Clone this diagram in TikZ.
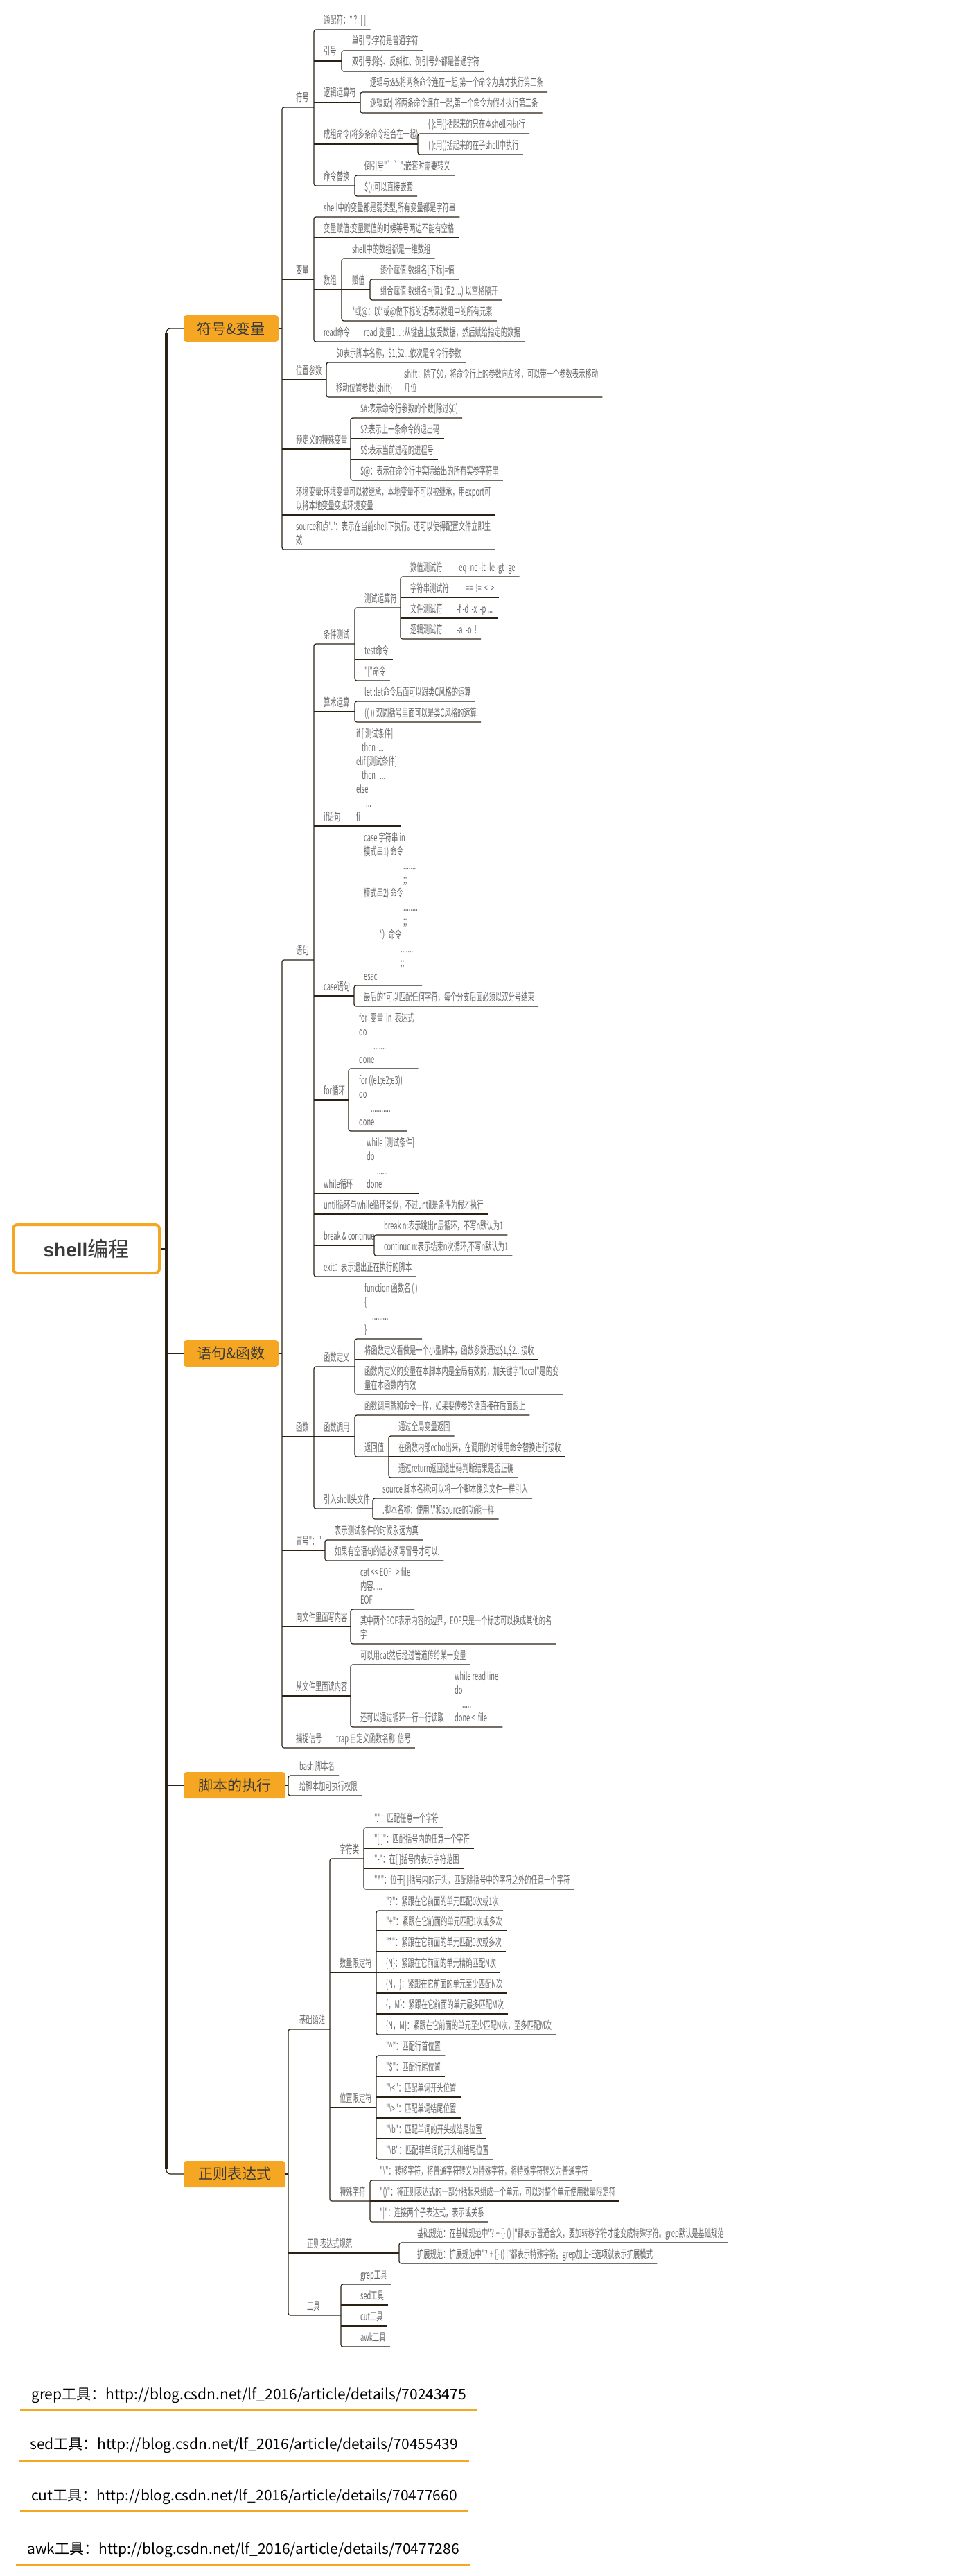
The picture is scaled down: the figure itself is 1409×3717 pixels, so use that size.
\documentclass[tikz,border=0pt]{standalone}
\usepackage{fontspec}
\setmainfont{Noto Sans CJK SC}
\newfontfamily\tfont{Noto Sans CJK SC}[FakeStretch=0.58]
\newfontfamily\rootlat{Liberation Sans}
\usetikzlibrary{positioning, calc}
\definecolor{lncol}{HTML}{2A2014}
\definecolor{txcol}{HTML}{666666}
\definecolor{orng}{HTML}{F5A623}
\definecolor{hubtx}{HTML}{3A3A3A}

\begin{document}
\begin{tikzpicture}[x=1pt, y=-1pt,
  ln/.style={draw=lncol, line width=1.2pt},
  bk/.style={ln, rounded corners=3pt},
  tx/.style={anchor=base west, inner xsep=6pt, inner ysep=0pt, align=left, text=txcol,
    font={\tfont\fontsize{16pt}{20pt}\selectfont}},
  hub/.style={fill=orng, rounded corners=4pt, minimum width=137pt, minimum height=38pt,
    inner sep=0pt, text=hubtx, font={\fontsize{21pt}{24pt}\selectfont}},
  lk/.style={anchor=base west, inner xsep=16pt, inner ysep=0pt, text=black,
    font={\fontsize{21pt}{24pt}\selectfont}},
  ol/.style={draw=orng, line width=3pt}]
\useasboundingbox (0,0) rectangle (1409,3717);

% root and trunk
\node[draw=orng, line width=4pt, fill=white, rounded corners=6pt, minimum width=211pt,
  minimum height=70pt, font={\fontsize{30pt}{34pt}\selectfont}, text=hubtx] (rt) at (124.5,1802)
  {{\rootlat\bfseries\fontsize{28pt}{30pt}\selectfont shell}编程};
\node[hub] (fhbl) at (333.5,474) {符号\&变量};
\node[hub] (yjhs) at (333.5,1953) {语句\&函数};
\node[hub, minimum width=147pt] (jbzx) at (338.5,2576) {脚本的执行};
\node[hub, minimum width=147pt] (zzbd) at (338.5,3137) {正则表达式};
\draw[ln, rounded corners=6pt] (fhbl.west) -- (240,474) -- (240,3137) -- (zzbd.west);
\draw[draw=lncol, line width=4pt] (240,481) -- (240,3130);
\draw[ln] (rt.east) -- (240,1802);
\draw[ln] (240,1953) -- (yjhs.west);
\draw[ln] (240,2576) -- (jbzx.west);

% ---------- 符号&变量
\draw[ln] (fhbl.east) -- (407,474);
\node[tx] (fh) at (421,147) {符号};
\node[tx] (tpf) at (461,35) {通配符：* ？[ ]};
\node[tx] (yh) at (461,80) {引号};
\node[tx] (dyh) at (502,65) {单引号:字符是普通字符};
\node[tx] (syh) at (502,95) {双引号:除\$、反斜杠、倒引号外都是普通字符};
\node[tx] (ljys) at (461,140) {逻辑运算符};
\node[tx] (ljy) at (528,125) {逻辑与:\&\&将两条命令连在一起,第一个命令为真才执行第二条};
\node[tx] (ljh) at (528,155) {逻辑或:||将两条命令连在一起,第一个命令为假才执行第二条};
\node[tx] (zzml) at (461,200) {成组命令(将多条命令组合在一起)};
\node[tx] (dkh) at (612,185) {\{ \}:用\{\}括起来的只在本shell内执行};
\node[tx] (xkh) at (612,215) {( ):用()括起来的在子shell中执行};
\node[tx] (mlth) at (461,260) {命令替换};
\node[tx] (dyhao) at (520,245) {倒引号"\textasciigrave\kern0pt\textasciigrave":嵌套时需要转义};
\node[tx] (ddk) at (520,275) {\$():可以直接嵌套};
\draw[bk] (tpf.east |- 0,43) -- (453,43) -- (453,268) -- (512,268);
\draw[ln] (453,88) -- (493,88);
\draw[bk] (dyh.east |- 0,73) -- (493,73) -- (493,103) -- (syh.east |- 0,103);
\draw[ln] (453,148) -- (520,148);
\draw[bk] (ljy.east |- 0,133) -- (520,133) -- (520,163) -- (ljh.east |- 0,163);
\draw[ln] (453,208) -- (603,208);
\draw[bk] (dkh.east |- 0,193) -- (603,193) -- (603,223) -- (xkh.east |- 0,223);
\draw[bk] (dyhao.east |- 0,253) -- (512,253) -- (512,283) -- (ddk.east |- 0,283);

\node[tx] (bl) at (421,395) {变量};
\node[tx] (rlx) at (461,305) {shell中的变量都是弱类型,所有变量都是字符串};
\node[tx] (blfz) at (461,335) {变量赋值:变量赋值的时候等号两边不能有空格};
\node[tx] (sz) at (461,410) {数组};
\node[tx] (wsz) at (502,365) {shell中的数组都是一维数组};
\node[tx] (fz) at (502,410) {赋值};
\node[tx] (zg) at (543,395) {逐个赋值:数组名[下标]=值};
\node[tx] (zh) at (543,425) {组合赋值:数组名=(值1 值2 ...) 以空格隔开};
\node[tx] (sy) at (502,455) {*或@：以*或@做下标的话表示数组中的所有元素};
\node[tx] (rd) at (461,485) {read命令};
\node[tx] (rdx) at (519,485) {read 变量1... :从键盘上接受数据，然后赋给指定的数据};
\draw[ln] (407,403) -- (453,403);
\draw[bk] (rlx.east |- 0,313) -- (453,313) -- (453,493) -- (rdx.east |- 0,493);
\draw[ln] (453,343) -- (blfz.east |- 0,343);
\draw[ln] (453,418) -- (534,418);
\draw[bk] (wsz.east |- 0,373) -- (493,373) -- (493,463) -- (sy.east |- 0,463);
\draw[bk] (zg.east |- 0,403) -- (534,403) -- (534,433) -- (zh.east |- 0,433);

\node[tx] (wzcs) at (421,540) {位置参数};
\node[tx] (cs0) at (479,515) {\$0表示脚本名称，\$1,\$2...依次是命令行参数};
\node[tx] (ydcs) at (479,565) {移动位置参数(shift)};
\node[tx] (shf) at (577,565) {shift：除了\$0，将命令行上的参数向左移，可以带一个参数表示移动\\几位};
\draw[ln] (407,548) -- (471,548);
\draw[bk] (cs0.east |- 0,523) -- (471,523) -- (471,573) -- (shf.east |- 0,573);

\node[tx] (tsbl) at (421,640) {预定义的特殊变量};
\node[tx] (sj) at (514,595) {\$\#:表示命令行参数的个数(除过\$0)};
\node[tx] (sw) at (514,625) {\$?:表示上一条命令的退出码};
\node[tx] (sd) at (514,655) {\$\$:表示当前进程的进程号};
\node[tx] (sa) at (514,685) {\$@：表示在命令行中实际给出的所有实参字符串};
\draw[ln] (407,648) -- (506,648);
\draw[bk] (sj.east |- 0,603) -- (506,603) -- (506,693) -- (sa.east |- 0,693);
\draw[ln] (506,633) -- (sw.east |- 0,633);
\draw[ln] (506,663) -- (sd.east |- 0,663);

\node[tx] (hjbl) at (421,735) {环境变量:环境变量可以被继承，本地变量不可以被继承，用export可\\以将本地变量变成环境变量};
\node[tx] (src) at (421,785) {source和点"."：表示在当前shell下执行。还可以使得配置文件立即生\\效};
\draw[ln] (407,743) -- (hjbl.east |- 0,743);
\draw[bk] (453,155) -- (407,155) -- (407,793) -- (src.east |- 0,793);

% ---------- 语句&函数
\draw[ln] (yjhs.east) -- (407,1953);
\node[tx] (yj) at (421,1377) {语句};

\node[tx] (tjcs) at (461,921) {条件测试};
\node[tx] (csys) at (520,869) {测试运算符};
\node[tx] (szcs) at (586,824) {数值测试符};
\node[tx] (szop) at (653,824) {-eq -ne -lt -le -gt -ge};
\node[tx] (zfcs) at (586,854) {字符串测试符};
\node[tx] (zfop) at (666,854) {==\ \ !=\ \ <\ \ >};
\node[tx] (wjcs) at (586,884) {文件测试符};
\node[tx] (wjop) at (653,884) {-f -d\ \ -x\ \ -p ...};
\node[tx] (ljcs) at (586,914) {逻辑测试符};
\node[tx] (ljop) at (653,914) {-a\ \ -o\ \ !};
\node[tx] (test) at (520,944) {test命令};
\node[tx] (zkh) at (520,974) {"["命令};
\draw[bk] (578,877) -- (512,877) -- (512,982) -- (zkh.east |- 0,982);
\draw[bk] (szop.east |- 0,832) -- (578,832) -- (578,922) -- (ljop.east |- 0,922);
\draw[ln] (578,862) -- (zfop.east |- 0,862);
\draw[ln] (578,892) -- (wjop.east |- 0,892);
\draw[ln] (512,952) -- (test.east |- 0,952);

\node[tx] (ssys) at (461,1019) {算术运算};
\node[tx] (let) at (520,1004) {let :let命令后面可以跟类C风格的运算};
\node[tx] (syk) at (520,1034) {(( )) 双圆括号里面可以是类C风格的运算};
\draw[ln] (453,1027) -- (512,1027);
\draw[bk] (let.east |- 0,1012) -- (512,1012) -- (512,1042) -- (syk.east |- 0,1042);

\node[tx] (ifyj) at (461,1184) {if语句};
\node[tx] (ifk) at (508,1184) {if [ 测试条件]\\\hspace*{8pt}then\ \ ...\\elif [测试条件]\\\hspace*{8pt}then\ \ \ ...\\else\\\hspace*{14pt}...\\fi};
\draw[ln] (453,1192) -- (ifk.east |- 0,1192);

\node[tx] (case) at (461,1429) {case语句};
\node[tx] (casek) at (519,1414) {case 字符串 in\\模式串1) 命令\\\hspace*{57pt}.......\\\hspace*{57pt};;\\模式串2) 命令\\\hspace*{57pt}........\\\hspace*{57pt};;\\\hspace*{22pt}*）命令\\\hspace*{53pt}........\\\hspace*{53pt};;\\esac};
\node[tx] (zhd) at (519,1444) {最后的*可以匹配任何字符，每个分支后面必须以双分号结束};
\draw[ln] (453,1437) -- (511,1437);
\draw[bk] (casek.east |- 0,1422) -- (511,1422) -- (511,1452) -- (zhd.east |- 0,1452);

\node[tx] (for) at (461,1579) {for循环};
\node[tx] (fora) at (512,1534) {for\ \ 变量\ \ in\ \ 表达式\\do\\\hspace*{21pt}.......\\done};
\node[tx] (forb) at (512,1624) {for ((e1;e2;e3))\\do\\\hspace*{17pt}...........\\done};
\draw[ln] (453,1587) -- (503,1587);
\draw[bk] (fora.east |- 0,1542) -- (503,1542) -- (503,1632) -- (forb.east |- 0,1632);

\node[tx] (while) at (461,1714) {while循环};
\node[tx] (whilek) at (523,1714) {while [测试条件]\\do\\\hspace*{15pt}......\\done};
\draw[ln] (453,1722) -- (whilek.east |- 0,1722);
\node[tx] (until) at (461,1744) {until循环与while循环类似，不过until是条件为假才执行};
\draw[ln] (453,1752) -- (until.east |- 0,1752);

\node[tx] (bc) at (461,1789) {break \& continue};
\node[tx] (brk) at (548,1774) {break n:表示跳出n层循环，不写n默认为1};
\node[tx] (cnt) at (548,1804) {continue n:表示结束n次循环,不写n默认为1};
\draw[ln] (453,1797) -- (540,1797);
\draw[bk] (brk.east |- 0,1782) -- (540,1782) -- (540,1812) -- (cnt.east |- 0,1812);
\node[tx] (ext) at (461,1834) {exit：表示退出正在执行的脚本};
\draw[bk] (512,929) -- (453,929) -- (453,1842) -- (ext.east |- 0,1842);

\node[tx] (hs) at (421,2065) {函数};
\draw[ln] (407,2073) -- (512,2073);
\draw[bk] (512,1972) -- (453,1972) -- (453,2177) -- (538,2177);
\node[tx] (hsdy) at (461,1964) {函数定义};
\node[tx] (fnk) at (520,1924) {function 函数名 ( )\\\{\\\hspace*{11pt}.........\\\}};
\node[tx] (xxjb) at (520,1954) {将函数定义看做是一个小型脚本，函数参数通过\$1,\$2...接收};
\node[tx] (jbbl) at (520,2004) {函数内定义的变量在本脚本内是全局有效的，加关键字"local"是的变\\量在本函数内有效};
\draw[bk] (fnk.east |- 0,1932) -- (512,1932) -- (512,2012) -- (jbbl.east |- 0,2012);
\draw[ln] (512,1962) -- (xxjb.east |- 0,1962);

\node[tx] (hsdyong) at (461,2065) {函数调用};
\node[tx] (cc) at (520,2034) {函数调用就和命令一样，如果要传参的话直接在后面跟上};
\node[tx] (fhz) at (520,2094) {返回值};
\node[tx] (qjbl) at (569,2064) {通过全局变量返回};
\node[tx] (echo) at (569,2094) {在函数内部echo出来，在调用的时候用命令替换进行接收};
\node[tx] (ret) at (569,2124) {通过return返回退出码判断结果是否正确};
\draw[bk] (cc.east |- 0,2042) -- (512,2042) -- (512,2102) -- (561,2102);
\draw[bk] (qjbl.east |- 0,2072) -- (561,2072) -- (561,2132) -- (ret.east |- 0,2132);
\draw[ln] (561,2102) -- (echo.east |- 0,2102);

\node[tx] (yrtw) at (461,2169) {引入shell头文件};
\node[tx] (srcj) at (546,2154) {source 脚本名称:可以将一个脚本像头文件一样引入};
\node[tx] (dian) at (546,2184) {.脚本名称：使用"."和source的功能一样};
\draw[bk] (srcj.east |- 0,2162) -- (538,2162) -- (538,2192) -- (dian.east |- 0,2192);

\node[tx] (mh) at (421,2229) {冒号"："};
\node[tx] (yyzz) at (477,2214) {表示测试条件的时候永远为真};
\node[tx] (kyj) at (477,2244) {如果有空语句的话必须写冒号才可以.};
\draw[ln] (407,2237) -- (469,2237);
\draw[bk] (yyzz.east |- 0,2222) -- (469,2222) -- (469,2252) -- (kyj.east |- 0,2252);

\node[tx] (xnr) at (421,2339) {向文件里面写内容};
\node[tx] (catk) at (514,2314) {cat <\kern0pt< EOF\ \ \ > file\\内容.....\\EOF};
\node[tx] (eof) at (514,2364) {其中两个EOF表示内容的边界，EOF只是一个标志可以换成其他的名\\字};
\draw[ln] (407,2347) -- (506,2347);
\draw[bk] (catk.east |- 0,2322) -- (506,2322) -- (506,2372) -- (eof.east |- 0,2372);

\node[tx] (dnr) at (421,2439) {从文件里面读内容};
\node[tx] (gd) at (514,2394) {可以用cat然后经过管道传给某一变量};
\node[tx] (xhdq) at (514,2484) {还可以通过循环一行一行读取};
\node[tx] (rdk) at (650,2484) {while read line\\do\\\hspace*{11pt}.....\\done <\ \ file};
\draw[ln] (407,2447) -- (506,2447);
\draw[bk] (gd.east |- 0,2402) -- (506,2402) -- (506,2492) -- (rdk.east |- 0,2492);

\node[tx] (bz) at (421,2514) {捕捉信号};
\node[tx] (trap) at (479,2514) {trap 自定义函数名称\ \ 信号};
\draw[bk] (453,1385) -- (407,1385) -- (407,2522) -- (trap.east |- 0,2522);

% ---------- 脚本的执行
\draw[ln] (jbzx.east) -- (416,2576);
\node[tx] (bash) at (426,2554) {bash 脚本名};
\node[tx] (qx) at (426,2583) {给脚本加可执行权限};
\draw[bk] (bash.east |- 0,2562) -- (416,2562) -- (416,2591) -- (qx.east |- 0,2591);

% ---------- 正则表达式
\draw[ln] (zzbd.east) -- (416,3137);
\draw[bk] (476,2928) -- (416,2928) -- (416,3341) -- (492,3341);
\node[tx] (jcyf) at (426,2920) {基础语法};
\draw[bk] (525,2682) -- (476,2682) -- (476,3176) -- (534,3176);

\node[tx] (zfl) at (484,2674) {字符类};
\node[tx] (r1) at (534,2629) {"."：匹配任意一个字符};
\node[tx] (r2) at (534,2659) {"[ ]"：匹配括号内的任意一个字符};
\node[tx] (r3) at (534,2688) {"-"：在[ ]括号内表示字符范围};
\node[tx] (r4) at (534,2718) {"\textasciicircum"：位于[ ]括号内的开头，匹配除括号中的字符之外的任意一个字符};
\draw[bk] (r1.east |- 0,2637) -- (525,2637) -- (525,2726) -- (r4.east |- 0,2726);
\draw[ln] (525,2667) -- (r2.east |- 0,2667);
\draw[ln] (525,2696) -- (r3.east |- 0,2696);

\node[tx] (slxd) at (484,2838) {数量限定符};
\node[tx] (q1) at (551,2749) {"?"：紧跟在它前面的单元匹配0次或1次};
\node[tx] (q2) at (551,2778) {"+"：紧跟在它前面的单元匹配1次或多次};
\node[tx] (q3) at (551,2808) {"*"：紧跟在它前面的单元匹配0次或多次};
\node[tx] (q4) at (551,2838) {\{N\}：紧跟在它前面的单元精确匹配N次};
\node[tx] (q5) at (551,2868) {\{N，\}：紧跟在它前面的单元至少匹配N次};
\node[tx] (q6) at (551,2898) {\{，M\}：紧跟在它前面的单元最多匹配M次};
\node[tx] (q7) at (551,2928) {\{N，M\}：紧跟在它前面的单元至少匹配N次，至多匹配M次};
\draw[ln] (476,2846) -- (543,2846);
\draw[bk] (q1.east |- 0,2757) -- (543,2757) -- (543,2936) -- (q7.east |- 0,2936);
\draw[ln] (543,2786) -- (q2.east |- 0,2786);
\draw[ln] (543,2816) -- (q3.east |- 0,2816);
\draw[ln] (543,2846) -- (q4.east |- 0,2846);
\draw[ln] (543,2876) -- (q5.east |- 0,2876);
\draw[ln] (543,2906) -- (q6.east |- 0,2906);

\node[tx] (wzxd) at (484,3033) {位置限定符};
\node[tx] (p1) at (551,2958) {"\textasciicircum"：匹配行首位置};
\node[tx] (p2) at (551,2988) {"\$"：匹配行尾位置};
\node[tx] (p3) at (551,3018) {"\textbackslash<"：匹配单词开头位置};
\node[tx] (p4) at (551,3048) {"\textbackslash>"：匹配单词结尾位置};
\node[tx] (p5) at (551,3078) {"\textbackslash b"：匹配单词的开头或结尾位置};
\node[tx] (p6) at (551,3108) {"\textbackslash B"：匹配非单词的开头和结尾位置};
\draw[ln] (476,3041) -- (543,3041);
\draw[bk] (p1.east |- 0,2966) -- (543,2966) -- (543,3116) -- (p6.east |- 0,3116);
\draw[ln] (543,2996) -- (p2.east |- 0,2996);
\draw[ln] (543,3026) -- (p3.east |- 0,3026);
\draw[ln] (543,3056) -- (p4.east |- 0,3056);
\draw[ln] (543,3086) -- (p5.east |- 0,3086);

\node[tx] (tszf) at (484,3168) {特殊字符};
\node[tx] (s1) at (542,3138) {"\textbackslash"：转移字符，将普通字符转义为特殊字符，将特殊字符转义为普通字符};
\node[tx] (s2) at (542,3168) {"()"：将正则表达式的一部分括起来组成一个单元，可以对整个单元使用数量限定符};
\node[tx] (s3) at (542,3198) {"|"：连接两个子表达式，表示或关系};
\draw[bk] (s1.east |- 0,3146) -- (534,3146) -- (534,3206) -- (s3.east |- 0,3206);
\draw[ln] (534,3176) -- (s2.east |- 0,3176);

\node[tx] (gf) at (437,3243) {正则表达式规范};
\node[tx] (jcgf) at (596,3228) {基础规范：在基础规范中"? + \{\} () |"都表示普通含义，要加转移字符才能变成特殊字符。grep默认是基础规范};
\node[tx] (kzgf) at (596,3258) {扩展规范：扩展规范中"? + \{\} () |"都表示特殊字符。grep加上-E选项就表示扩展模式};
\draw[ln] (416,3251) -- (576,3251);
\draw[bk] (jcgf.east |- 0,3236) -- (576,3236) -- (576,3266) -- (kzgf.east |- 0,3266);

\node[tx] (gj) at (437,3333) {工具};
\node[tx] (grep) at (514,3288) {grep工具};
\node[tx] (sed) at (514,3318) {sed工具};
\node[tx] (cut) at (514,3348) {cut工具};
\node[tx] (awk) at (514,3378) {awk工具};
\draw[bk] (grep.east |- 0,3296) -- (492,3296) -- (492,3386) -- (awk.east |- 0,3386);
\draw[ln] (492,3326) -- (sed.east |- 0,3326);
\draw[ln] (492,3356) -- (cut.east |- 0,3356);

% ---------- links
\node[lk] (lgrep) at (29,3462) {grep工具：http://blog.csdn.net/lf\_2016/article/details/70243475};
\node[lk] (lsed) at (27,3534) {sed工具：http://blog.csdn.net/lf\_2016/article/details/70455439};
\node[lk] (lcut) at (29,3608) {cut工具：http://blog.csdn.net/lf\_2016/article/details/70477660};
\node[lk] (lawk) at (23,3685) {awk工具：http://blog.csdn.net/lf\_2016/article/details/70477286};
\draw[ol] (lgrep.west |- 0,3477) -- (lgrep.east |- 0,3477);
\draw[ol] (lsed.west |- 0,3550) -- (lsed.east |- 0,3550);
\draw[ol] (lcut.west |- 0,3623) -- (lcut.east |- 0,3623);
\draw[ol] (lawk.west |- 0,3700) -- (lawk.east |- 0,3700);
\end{tikzpicture}
\end{document}
